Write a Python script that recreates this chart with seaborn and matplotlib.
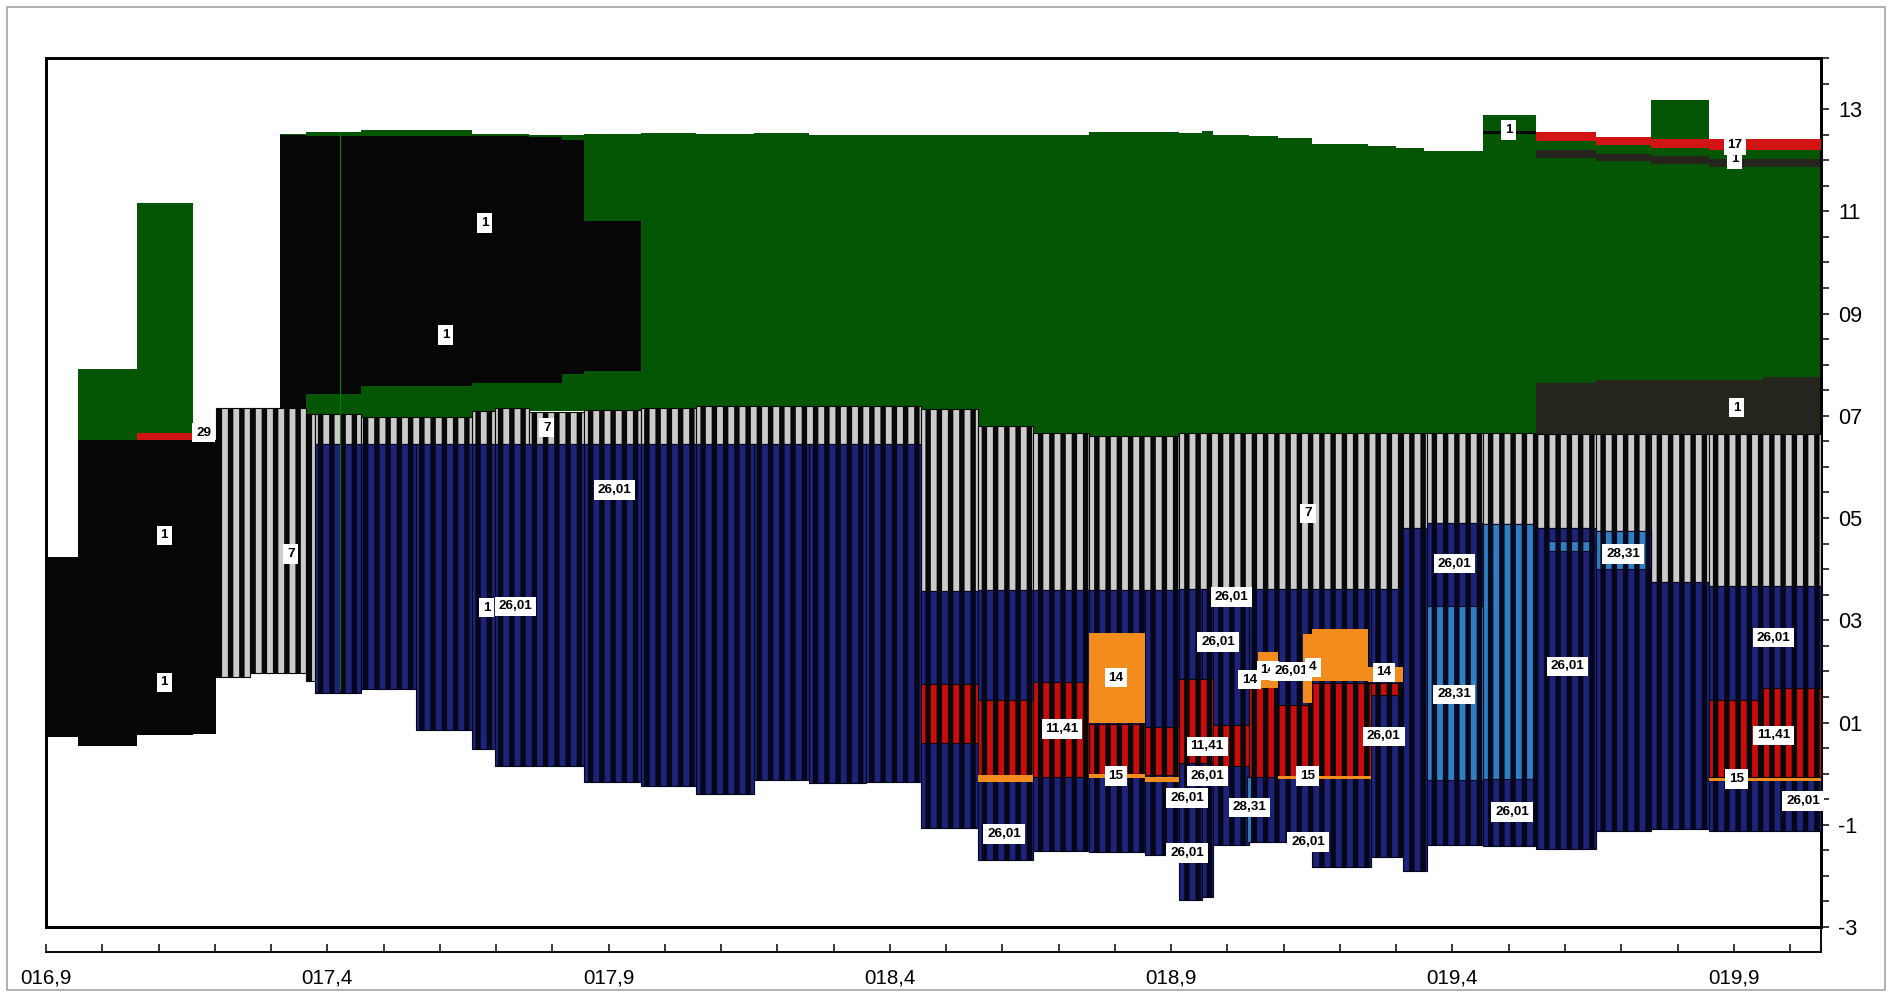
import numpy as np
import matplotlib
matplotlib.use("Agg")
import matplotlib.pyplot as plt
from matplotlib.ticker import MultipleLocator
from matplotlib.patches import Rectangle
import seaborn as sns

# ---------------- data: (x_start, x_end, low, high) per series ----------------
green = [
    (16.957, 17.062, 6.53, 7.92), (17.062, 17.162, 6.67, 11.16),
    (17.316, 17.362, 12.40, 12.52), (17.362, 17.46, 7.04, 12.56),
    (17.46, 17.658, 6.98, 12.60), (17.658, 17.758, 7.10, 12.52),
    (17.758, 17.857, 7.10, 12.49), (17.857, 17.957, 7.12, 12.52),
    (17.957, 18.056, 7.16, 12.53), (18.056, 18.159, 7.20, 12.51),
    (18.159, 18.257, 7.20, 12.53), (18.257, 18.456, 7.20, 12.50),
    (18.456, 18.557, 7.14, 12.50), (18.557, 18.655, 6.80, 12.50),
    (18.655, 18.754, 6.67, 12.50), (18.754, 18.914, 6.61, 12.55),
    (18.914, 18.955, 6.62, 12.53), (18.955, 18.975, 6.65, 12.58),
    (18.975, 19.039, 6.67, 12.50), (19.039, 19.09, 6.67, 12.48),
    (19.09, 19.15, 6.67, 12.43), (19.15, 19.25, 6.67, 12.31),
    (19.25, 19.30, 6.67, 12.27), (19.30, 19.35, 6.67, 12.23),
    (19.35, 19.454, 6.67, 12.18), (19.454, 19.548, 6.67, 12.88),
    (19.548, 19.655, 7.64, 12.37), (19.655, 19.753, 7.70, 12.29),
    (19.753, 19.856, 7.70, 13.17), (19.856, 19.952, 7.70, 12.21),
    (19.952, 20.055, 7.76, 12.21),
]
black_1 = [
    (16.90, 16.957, 0.71, 4.23), (16.957, 17.062, 0.535, 6.53),
    (17.062, 17.162, 0.75, 6.53), (17.162, 17.202, 0.77, 6.53),
    (17.316, 17.362, 7.16, 12.49), (17.362, 17.46, 7.43, 12.48),
    (17.46, 17.658, 7.59, 12.47), (17.658, 17.758, 7.64, 12.47),
    (17.758, 17.817, 7.64, 12.45), (17.817, 17.857, 7.82, 12.40),
    (17.857, 17.957, 7.88, 10.81), (19.454, 19.548, 12.52, 12.57),
]
dark_1 = [
    (19.548, 19.655, 6.65, 7.64), (19.655, 19.952, 6.65, 7.70),
    (19.952, 20.055, 6.65, 7.76),
    (19.548, 19.655, 12.05, 12.20), (19.655, 19.753, 11.98, 12.13),
    (19.753, 19.856, 11.92, 12.08), (19.856, 20.055, 11.87, 12.03),
]
red_29 = [(17.062, 17.167, 6.53, 6.67)]
red_17 = [
    (19.548, 19.655, 12.37, 12.55), (19.655, 19.753, 12.29, 12.45),
    (19.753, 19.856, 12.23, 12.41), (19.856, 20.055, 12.21, 12.41),
]
stripes_7 = [
    (17.202, 17.262, 1.90, 7.16), (17.262, 17.362, 1.96, 7.16),
    (17.362, 17.378, 1.82, 7.04), (17.378, 17.46, 6.45, 7.04),
    (17.46, 17.658, 6.45, 6.98), (17.658, 17.698, 6.45, 7.10),
    (17.698, 17.758, 6.45, 7.16), (17.758, 17.857, 6.45, 7.08),
    (17.857, 17.957, 6.45, 7.12), (17.957, 18.056, 6.45, 7.16),
    (18.056, 18.456, 6.45, 7.20), (18.456, 18.557, 3.58, 7.14),
    (18.557, 18.655, 3.60, 6.80), (18.655, 18.754, 3.60, 6.67),
    (18.754, 18.914, 3.60, 6.61), (18.914, 19.312, 3.62, 6.67),
    (19.312, 19.355, 4.81, 6.67), (19.355, 19.454, 4.91, 6.67),
    (19.454, 19.548, 4.89, 6.67), (19.548, 19.655, 4.81, 6.65),
    (19.655, 19.753, 4.75, 6.65), (19.753, 19.856, 3.74, 6.65),
    (19.856, 20.055, 3.68, 6.65),
]
navy_26_01 = [
    (17.378, 17.46, 1.57, 6.45), (17.46, 17.557, 1.65, 6.45),
    (17.557, 17.658, 0.85, 6.45), (17.658, 17.698, 0.48, 6.45),
    (17.698, 17.857, 0.145, 6.45), (17.857, 17.957, -0.17, 6.45),
    (17.957, 18.056, -0.25, 6.45), (18.056, 18.159, -0.40, 6.45),
    (18.159, 18.257, -0.13, 6.45), (18.257, 18.358, -0.19, 6.45),
    (18.358, 18.456, -0.17, 6.45), (18.456, 18.557, -1.07, 3.58),
    (18.557, 18.655, -1.69, 3.60), (18.655, 18.754, -1.52, 3.60),
    (18.754, 18.854, -1.54, 3.60), (18.854, 18.914, -1.59, 3.60),
    (18.914, 18.955, -2.47, 3.62), (18.955, 18.975, -2.41, 3.62),
    (18.975, 19.039, -1.40, 3.62), (19.039, 19.15, -1.34, 3.62),
    (19.15, 19.255, -1.83, 3.62), (19.255, 19.312, -1.63, 3.62),
    (19.312, 19.355, -1.91, 4.81), (19.355, 19.454, -1.40, 4.91),
    (19.454, 19.548, -1.42, 4.89), (19.548, 19.655, -1.48, 4.81),
    (19.655, 19.753, -1.125, 4.75), (19.753, 19.856, -1.09, 3.74),
    (19.856, 20.055, -1.125, 3.68),
]
blue_28_31 = [
    (19.355, 19.454, -0.13, 3.27), (19.454, 19.548, -0.10, 4.89),
    (19.562, 19.652, 4.36, 4.56), (19.655, 19.753, 4.01, 4.75),
    (19.035, 19.042, -1.34, -0.06),
]
red_11_41 = [
    (18.456, 18.557, 0.594, 1.746), (18.557, 18.655, -0.03, 1.45),
    (18.655, 18.754, -0.07, 1.785), (18.754, 18.854, -0.01, 0.965),
    (18.854, 18.914, -0.03, 0.906), (18.914, 18.975, 0.20, 1.86),
    (18.975, 19.039, 0.15, 0.95), (19.039, 19.082, -0.07, 1.88),
    (19.082, 19.15, -0.07, 1.34), (19.15, 19.255, -0.07, 1.77),
    (19.255, 19.312, 1.53, 1.77), (19.856, 19.952, -0.07, 1.45),
    (19.952, 20.055, -0.07, 1.67),
]
orange_14 = [
    (18.754, 18.854, 1.00, 2.76), (19.055, 19.09, 1.67, 2.37),
    (19.134, 19.15, 1.375, 2.74), (19.15, 19.25, 1.82, 2.82),
    (19.25, 19.312, 1.785, 2.08),
]
orange_15 = [
    (18.557, 18.655, -0.17, -0.03), (18.754, 18.854, -0.09, -0.01),
    (18.854, 18.914, -0.17, -0.07), (19.09, 19.255, -0.10, -0.05),
    (19.856, 20.055, -0.14, -0.09),
]
labels = [
    ("1", 17.68, 10.77), ("1", 17.61, 8.58), ("29", 17.18, 6.67),
    ("7", 17.79, 6.77), ("26,01", 17.91, 5.55), ("1", 17.11, 4.66),
    ("7", 17.335, 4.30), ("1", 17.683, 3.25), ("26,01", 17.735, 3.27),
    ("1", 17.11, 1.785), ("1", 19.50, 12.59), ("1", 19.902, 12.02),
    ("17", 19.902, 12.29), ("1", 19.905, 7.16), ("7", 19.143, 5.09),
    ("26,01", 19.403, 4.11), ("28,31", 19.703, 4.30), ("26,01", 19.007, 3.46),
    ("26,01", 18.983, 2.57), ("26,01", 19.971, 2.66), ("14", 18.802, 1.88),
    ("14", 19.039, 1.84), ("14", 19.072, 2.02), ("26,01", 19.113, 2.00),
    ("4", 19.152, 2.08), ("14", 19.278, 1.98), ("26,01", 19.605, 2.10),
    ("28,31", 19.403, 1.55), ("11,41", 18.706, 0.875), ("11,41", 18.964, 0.535),
    ("26,01", 19.278, 0.73), ("11,41", 19.971, 0.75), ("15", 18.802, -0.05),
    ("15", 19.142, -0.05), ("15", 19.905, -0.11), ("26,01", 18.964, -0.05),
    ("26,01", 18.928, -0.48), ("28,31", 19.039, -0.66), ("26,01", 18.603, -1.18),
    ("26,01", 19.143, -1.34), ("26,01", 19.506, -0.75), ("26,01", 20.023, -0.54),
    ("26,01", 18.928, -1.55),
]
x_major = [16.9, 17.4, 17.9, 18.4, 18.9, 19.4, 19.9]
x_labels = ["016,9", "017,4", "017,9", "018,4", "018,9", "019,4", "019,9"]
y_major = [-3, -1, 1, 3, 5, 7, 9, 11, 13]
y_labels = ["-3", "-1", "01", "03", "05", "07", "09", "11", "13"]

# ---------------- style ----------------
DPI = 135.12
W, H = 1892, 997
sns.set_theme(style="white")
plt.rcParams["font.family"] = ["Liberation Sans", "DejaVu Sans"]
plt.rcParams["hatch.linewidth"] = 2.9

fig = plt.figure(figsize=(W / DPI, H / DPI), dpi=DPI)
fig.patch.set_facecolor("white")
ax = fig.add_axes([46 / W, 1 - 927 / H, (1821 - 46) / W, (927 - 58) / H])
ax.set_facecolor("white")
ax.set_xlim(16.9, 20.055)
ax.set_ylim(-3, 14)


def draw(segs, face, hatch=None, hcolor=None, z=2, lw=0.0):
    a = np.array(segs, dtype=float)
    x0, x1, lo, hi = a[:, 0], a[:, 1], a[:, 2], a[:, 3]
    ax.bar(x0, hi - lo, width=x1 - x0, bottom=lo, align="edge",
           color=face, edgecolor=hcolor if hcolor else face,
           hatch=hatch, linewidth=lw, zorder=z)


draw(green, "#045604", z=1)
draw(black_1, "#060606", z=2)
draw(dark_1, "#25241d", z=2)
draw(stripes_7, "#cbcbcb", hatch="||", hcolor="#080808", z=3, lw=0.6)
draw(navy_26_01, "#1c2378", hatch="||", hcolor="#06061a", z=4, lw=0.6)
draw(blue_28_31, "#2f7fc2", hatch="||", hcolor="#08081e", z=5, lw=0.6)
draw(red_11_41, "#cc0c0c", hatch="||", hcolor="#080808", z=5, lw=0.6)
draw(orange_14, "#f28c1c", z=6)
draw(orange_15, "#f28c1c", z=6)
draw(red_29, "#d21414", z=6)
draw(red_17, "#d21414", z=6)

# thin green guide line through the left block
ax.vlines([17.422], 1.63, 12.55, color="#0b7a0b", lw=0.6, zorder=6)

for t, x, y in labels:
    ax.text(x, y, t, ha="center", va="center", fontsize=7.2, fontweight="bold",
            color="black", zorder=9 if (t == "1" and y == 12.02) else 10,
            bbox=dict(boxstyle="square,pad=0.28", fc="white", ec="none"))

# frame
for s in ax.spines.values():
    s.set_visible(True)
    s.set_color("black")
    s.set_linewidth(1.6)
ax.tick_params(axis="x", bottom=False, labelbottom=False, top=False)

# right y axis
ax.yaxis.tick_right()
ax.set_yticks(y_major)
ax.set_yticklabels(y_labels)
ax.yaxis.set_minor_locator(MultipleLocator(0.5))
ax.tick_params(axis="y", which="both", direction="out", right=True, left=False,
               length=4, width=0.8, colors="black", labelsize=11.5, pad=5)

# offset x axis below the frame
off = -25 / (927 - 58)
sec = ax.secondary_xaxis(off)
sec.set_xticks(x_major)
sec.set_xticklabels(x_labels)
sec.xaxis.set_minor_locator(MultipleLocator(0.1))
sec.tick_params(axis="x", which="both", direction="in", length=4, width=0.8,
                colors="black", labelsize=11, pad=9)
sec.spines["bottom"].set_linewidth(1.0)
sec.spines["bottom"].set_color("black")
ax.plot([1.0, 1.0], [0, off], transform=ax.transAxes, color="black",
        lw=1.0, clip_on=False, zorder=20)

# outer border of the picture
fig.add_artist(Rectangle((7 / W, 7 / H), 1 - 14 / W, 1 - 14 / H,
                         transform=fig.transFigure, fill=False,
                         ec="#9a9a9a", lw=0.8))

fig.savefig("out.png", dpi=DPI, facecolor="white")
